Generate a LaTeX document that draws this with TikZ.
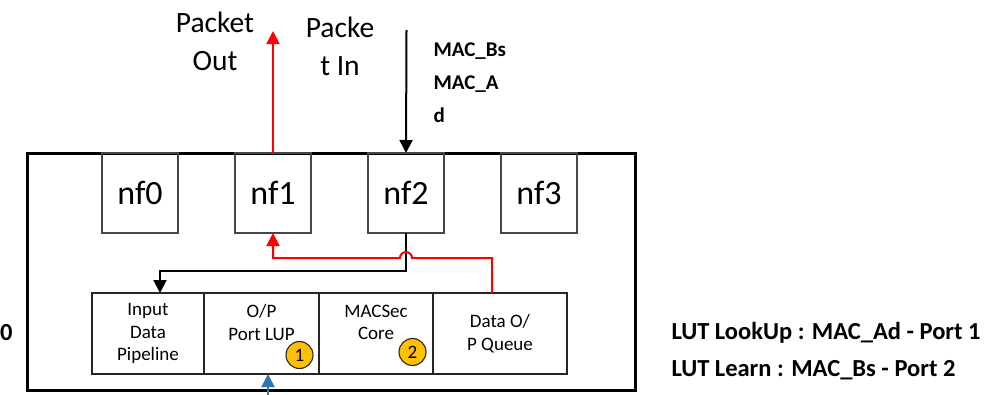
\documentclass[tikz,border=0pt]{standalone}
\usepackage{fontspec}
\setmainfont{Carlito}
\definecolor{pathred}{RGB}{255,0,0}
\definecolor{pathblue}{RGB}{46,117,182}
\definecolor{badgegold}{RGB}{255,192,0}
\definecolor{edgegray}{RGB}{70,70,70}
\usetikzlibrary{arrows.meta,positioning,calc}

\begin{document}
\begin{tikzpicture}[x=1pt, y=-1pt,
    port/.style={rectangle, draw=edgegray, line width=1.8pt, minimum width=76pt,
                 minimum height=80pt, inner sep=0pt, outer sep=0pt,
                 font=\fontsize{34}{36}\selectfont},
    module/.style={rectangle, draw=black!85, line width=1.8pt, minimum height=81pt,
                   inner sep=0pt, outer sep=0pt, align=center,
                   font=\fontsize{19}{22.5}\selectfont},
    badge/.style={circle, draw=black!85, fill=badgegold, line width=1.1pt,
                  minimum size=27pt, inner sep=0pt, font=\fontsize{19}{20}\selectfont},
    flow/.style={line width=2pt, -{Triangle[length=13pt,width=13pt]}},
    toptext/.style={align=center, font=\fontsize{29.5}{38}\selectfont},
    boldtext/.style={font=\bfseries\fontsize{21}{33}\selectfont},
    keytext/.style={font=\bfseries\fontsize{24.5}{30}\selectfont}]
    \useasboundingbox (0,0) rectangle (992,394);

    % board outline
    \node[draw, line width=3pt, minimum width=608pt, minimum height=237pt,
          inner sep=0pt] (board) at (331,271.5) {};

    % network ports along the top edge
    \node[port] (nf0) at (140,193) {nf0};
    \node[port, right=57pt of nf0] (nf1) {nf1};
    \node[port, right=57pt of nf1] (nf2) {nf2};
    \node[port, right=57pt of nf2] (nf3) {nf3};

    % processing modules
    \node[module, minimum width=112pt, anchor=north west] (inp) at (92,293)
          {Input\\Data\\Pipeline};
    \node[module, minimum width=115pt, right=0pt of inp] (lup) {O/P\\Port LUP\\\mbox{}};
    \node[module, minimum width=114pt, right=0pt of lup] (mac) {MACSec\\Core\\\mbox{}};
    \node[module, minimum width=134pt, right=0pt of mac] (que) {Data O/\\P Queue};
    \node[badge] (b1) at (299.5,355) {1};
    \node[badge] (b2) at (412.5,352) {2};

    % labels
    \node[toptext] (outlbl) at (215,41) {Packet\\Out};
    \node[toptext] (inlbl) at (340,46) {Packe\\t In};
    \node[boldtext, align=left, anchor=west] (maclbl) at (430,83) {MAC\_Bs\\MAC\_A\\d};
    \node[keytext, anchor=west, inner sep=0pt] (cut) at (0,333) {0};
    \node[keytext, anchor=west] (lookup) at (668,333) {LUT LookUp : MAC\_Ad - Port 1};
    \node[keytext, anchor=west] (learn) at (668,370) {LUT Learn : MAC\_Bs - Port 2};

    % connectors
    \coordinate (pktout) at (274,31);
    \coordinate (pktin) at (406.5,30);
    \coordinate (blackturn) at (160,271);
    \coordinate (redturn) at (492,258);
    \coordinate (lupin) at (268,396);

    \draw[flow, pathred] (nf1.north) -- (nf1.north |- pktout);
    \draw[flow] (pktin) -- (nf2.north);
    \draw[flow] (nf2.south) |- (blackturn) -- (blackturn |- inp.north);
    \draw[flow, pathred] (redturn |- que.north) -- (redturn)
      -- ($(nf2.south |- redturn)+(6,0)$) arc[start angle=0, end angle=-180, radius=6]
      -- (nf1.south |- redturn) -- (nf1.south);
    \draw[flow, pathblue] (lupin) -- (lupin |- lup.south);
\end{tikzpicture}
\end{document}
